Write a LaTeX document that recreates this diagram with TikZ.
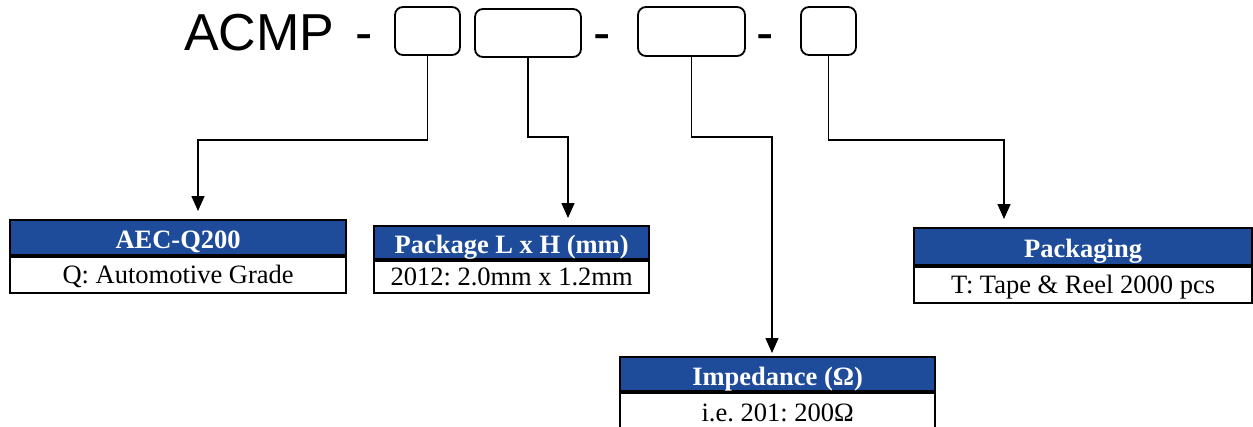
\documentclass[tikz,border=0pt]{standalone}
\usepackage{fontspec}
\setmainfont{Liberation Serif}
\newfontfamily\arialfont{Liberation Sans}
\usetikzlibrary{arrows.meta}
\definecolor{hdrblue}{RGB}{30,76,155}
\frenchspacing
\begin{document}
\begin{tikzpicture}[x=1pt,y=-1pt,
 slot/.style={draw,line width=1.8pt,rounded corners=8pt,inner sep=0pt},
 hdr/.style={draw,line width=2.2pt,fill=hdrblue,text=white,font=\fontsize{26.5}{28}\selectfont\bfseries,inner sep=0pt,text height=24pt,text depth=2pt,anchor=north west},
 bdy/.style={draw,line width=2.2pt,font=\fontsize{26.5}{28}\selectfont,inner sep=0pt,text height=20pt,text depth=3pt,anchor=north},
 conn/.style={line width=1.5pt,-{Triangle[length=15pt,width=13pt]}},
 big/.style={font=\arialfont\fontsize{52}{56}\selectfont,inner sep=0pt}]
\useasboundingbox (0,0) rectangle (1253,426);
\clip (0,0) rectangle (1253,426);
% part number
\node[big,anchor=base west] (acmp) at (184,50) {ACMP};
\node[big,anchor=base] (d1) at (364.5,50) {-};
\node[big,anchor=base] (d2) at (602,50) {-};
\node[big,anchor=base] (d3) at (765,50) {-};
\node[slot,minimum width=65pt,minimum height=48pt] (s1) at (427.5,31) {};
\node[slot,minimum width=106pt,minimum height=48pt] (s2) at (528,33) {};
\node[slot,minimum width=107pt,minimum height=49pt] (s3) at (691.5,31.5) {};
\node[slot,minimum width=55pt,minimum height=48pt] (s4) at (828.5,31) {};
% info boxes
\node[hdr,minimum width=336pt,minimum height=35pt] (aech) at (9,219) {AEC-Q200};
\node[bdy,minimum width=336pt,minimum height=36pt] (aecb) at (aech.south) {Q: Automotive Grade};
\node[hdr,minimum width=275pt,minimum height=33pt] (pkgh) at (373,225) {Package L x H (mm)};
\node[bdy,minimum width=275pt,minimum height=32pt] (pkgb) at (pkgh.south) {2012: 2.0mm x 1.2mm};
\node[hdr,minimum width=338pt,minimum height=37pt] (packh) at (913,227) {Packaging};
\node[bdy,minimum width=338pt,minimum height=36pt] (packb) at (packh.south) {T: Tape \& Reel 2000 pcs};
\node[hdr,minimum width=315pt,minimum height=34pt] (imph) at (619,356) {Impedance (Ω)};
\node[bdy,minimum width=315pt,minimum height=40pt] (impb) at (imph.south) {i.e. 201: 200Ω};
% arrow tips
\coordinate (t1) at (198,211);
\coordinate (t2) at (568,218);
\coordinate (t3) at (772,353);
\coordinate (t4) at (1004,219);
\draw[conn] (s1.south) -- ++(0,84) -| (t1);
\draw[conn] (s2.south) -- ++(0,79) -| (t2);
\draw[conn] (s3.south) -- ++(0,80) -| (t3);
\draw[conn] (s4.south) -- ++(0,84) -| (t4);
\end{tikzpicture}
\end{document}
